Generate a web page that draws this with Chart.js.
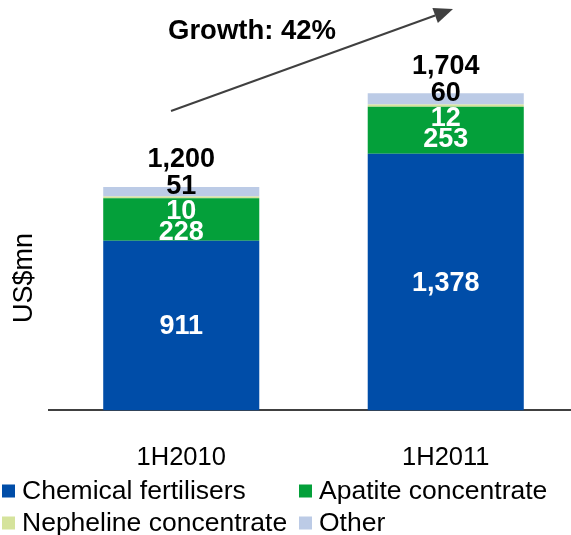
<!DOCTYPE html>
<html>
<head>
<meta charset="utf-8">
<script src="https://cdn.jsdelivr.net/npm/chart.js@4/dist/chart.umd.min.js"></script>
<style>
  html, body { margin: 0; padding: 0; background: #ffffff; overflow: hidden; }
  canvas { display: block; }
</style>
</head>
<body>
<canvas id="c" width="578" height="535"></canvas>
<script>
// Revenue by segment, US$ million
const categories = ['1H2010', '1H2011'];
const chemicalFertilisers = [911, 1378];
const apatiteConcentrate = [228, 253];
const nephelineConcentrate = [10, 12];
const otherRevenue = [51, 60];
const totals = [1200, 1704];
const seriesNames = ['Chemical fertilisers', 'Apatite concentrate', 'Nepheline concentrate', 'Other'];
const growthLabel = 'Growth: 42%';
const axisTitle = 'US$mn';

const FONT = "'Liberation Sans', Arial, Helvetica, sans-serif";
const COLORS = ['#004DA8', '#04A03A', '#D5E39C', '#BCCBE6'];

const fmt = v => v.toLocaleString('en-US');

// Value labels stacked above / inside each column
const valueLabels = {
  id: 'valueLabels',
  afterDatasetsDraw(chart) {
    const ctx = chart.ctx;
    const metas = [0, 1, 2, 3].map(i => chart.getDatasetMeta(i));
    ctx.save();
    ctx.textAlign = 'center';
    ctx.textBaseline = 'middle';
    ctx.font = 'bold 27px ' + FONT;
    categories.forEach((c, i) => {
      const topEl = metas[3].data[i];
      const x = topEl.x;
      const top = topEl.y;
      const chemEl = metas[0].data[i];
      // chemical fertilisers, centred in its segment
      ctx.fillStyle = '#ffffff';
      ctx.fillText(fmt(chemicalFertilisers[i]), x, (chemEl.y + chemEl.base) / 2 + 1);
      // apatite and nepheline, stacked under the top of the column
      ctx.fillText(fmt(apatiteConcentrate[i]), x, top + 46);
      ctx.fillText(fmt(nephelineConcentrate[i]), x, top + 25);
      // other and total, in black
      ctx.fillStyle = '#000000';
      ctx.fillText(fmt(otherRevenue[i]), x, top);
      ctx.fillText(fmt(totals[i]), x, top - 27);
    });
    ctx.restore();
  }
};

// Growth arrow, axis title and two-column legend
const decorations = {
  id: 'decorations',
  afterDraw(chart) {
    const ctx = chart.ctx;
    ctx.save();

    // growth arrow
    const x0 = 171, y0 = 111, x1 = 453, y1 = 9;
    const ang = Math.atan2(y1 - y0, x1 - x0);
    const headLen = 19, headW = 8;
    ctx.strokeStyle = '#404040';
    ctx.fillStyle = '#404040';
    ctx.lineWidth = 2;
    ctx.beginPath();
    ctx.moveTo(x0, y0);
    ctx.lineTo(x1 - headLen * Math.cos(ang), y1 - headLen * Math.sin(ang));
    ctx.stroke();
    ctx.beginPath();
    ctx.moveTo(x1, y1);
    ctx.lineTo(x1 - headLen * Math.cos(ang) + headW * Math.sin(ang), y1 - headLen * Math.sin(ang) - headW * Math.cos(ang));
    ctx.lineTo(x1 - headLen * Math.cos(ang) - headW * Math.sin(ang), y1 - headLen * Math.sin(ang) + headW * Math.cos(ang));
    ctx.closePath();
    ctx.fill();

    ctx.fillStyle = '#000000';
    ctx.font = 'bold 27.5px ' + FONT;
    ctx.textAlign = 'left';
    ctx.textBaseline = 'middle';
    ctx.fillText(growthLabel, 168, 31);

    // y axis title
    ctx.save();
    ctx.translate(25, 278);
    ctx.rotate(-Math.PI / 2);
    ctx.textAlign = 'center';
    ctx.font = '27px ' + FONT;
    ctx.fillText(axisTitle, 0, 0);
    ctx.restore();

    // legend in two columns
    const colX = [2, 299];
    const rowY = [491, 523];
    ctx.font = '26.5px ' + FONT;
    ctx.textAlign = 'left';
    chart.data.datasets.forEach((ds, i) => {
      const cx = colX[i % 2];
      const cy = rowY[Math.floor(i / 2)];
      ctx.fillStyle = ds.backgroundColor;
      ctx.fillRect(cx, cy - 6.5, 13, 13);
      ctx.fillStyle = '#000000';
      ctx.fillText(ds.label, cx + 20, cy + 1);
    });
    ctx.restore();
  }
};

const datasetsSrc = [chemicalFertilisers, apatiteConcentrate, nephelineConcentrate, otherRevenue];

new Chart(document.getElementById('c'), {
  type: 'bar',
  data: {
    labels: categories,
    datasets: datasetsSrc.map((d, i) => ({
      label: seriesNames[i],
      data: d,
      backgroundColor: COLORS[i],
      borderWidth: 0,
      barPercentage: 0.59,
      categoryPercentage: 1.0
    }))
  },
  options: {
    responsive: false,
    animation: false,
    devicePixelRatio: 1,
    layout: { padding: { left: 49, right: 0, top: 38, bottom: 30 } },
    plugins: {
      legend: { display: false },
      tooltip: { enabled: false }
    },
    scales: {
      x: {
        stacked: true,
        grid: { display: false, drawTicks: false },
        border: { display: true, color: '#404040', width: 2 },
        ticks: { color: '#000000', font: { family: FONT, size: 25.5 }, padding: 32 }
      },
      y: {
        stacked: true,
        min: 0,
        max: 2000,
        display: false
      }
    }
  },
  plugins: [valueLabels, decorations]
});
</script>
</body>
</html>
